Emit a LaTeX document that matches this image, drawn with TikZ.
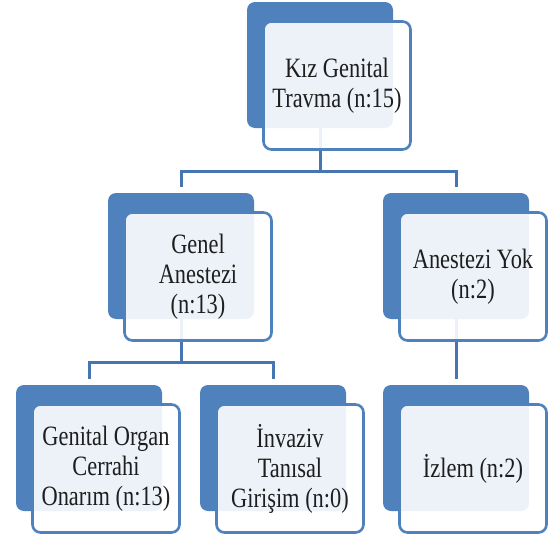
\documentclass[tikz,border=0pt]{standalone}
\usepackage{fontspec}
\setmainfont{Liberation Serif}[FakeStretch=0.8]
\definecolor{box_blue}{RGB}{79,129,189}
\definecolor{edge_blue}{RGB}{70,118,178}
\definecolor{text_gray}{RGB}{30,30,30}

\begin{document}
\begin{tikzpicture}[x=1pt,y=-1pt]
    \tikzstyle{back}=[fill=box_blue, rounded corners=8pt, minimum width=146pt, minimum height=126pt, inner sep=0pt]
    \tikzstyle{front}=[draw=box_blue, line width=2.6pt, fill=white, fill opacity=0.9, text opacity=1, rounded corners=8pt, minimum width=147pt, minimum height=128pt, inner sep=0pt, align=center, text=text_gray, font=\fontsize{28}{30}\selectfont]
    \tikzstyle{conn}=[draw=edge_blue, line width=3pt]

    \useasboundingbox (0,0) rectangle (555,538);

    % back boxes
    \node[back] (top)     at (320,65)  {};
    \node[back] (genel)   at (181,256) {};
    \node[back] (yok)     at (456,256) {};
    \node[back] (cerrahi) at (89,448)  {};
    \node[back] (invaziv) at (273,448) {};
    \node[back] (izlem)   at (456,448) {};

    % connectors
    \coordinate (j1) at (320,171);
    \coordinate (j2) at (181,362);
    \draw[conn] (top.south) -- (j1);
    \draw[conn,shorten >=6pt] (j1) -| (genel.north);
    \draw[conn,shorten >=6pt] (j1) -| (yok.north);
    \draw[conn] (genel.south) -- (j2);
    \draw[conn,shorten >=6pt] (j2) -| (cerrahi.north);
    \draw[conn,shorten >=6pt] (j2) -| (invaziv.north);
    \draw[conn,shorten >=6pt] (yok.south) -- (izlem.north);

    % front boxes
    \node[front] (topF)     at (337,85.5)  {Kız Genital\\Travma (n:15)};
    \node[front] (genelF)   at (198,276.5) {Genel\\Anestezi\\(n:13)};
    \node[front] (yokF)     at (473,276.5) {Anestezi Yok\\(n:2)};
    \node[front] (cerrahiF) at (106,468.5) {Genital Organ\\Cerrahi\\Onarım (n:13)};
    \node[front] (invazivF) at (290,468.5) {İnvaziv\\Tanısal\\Girişim (n:0)};
    \node[front] (izlemF)   at (473,468.5) {İzlem (n:2)};
\end{tikzpicture}
\end{document}
